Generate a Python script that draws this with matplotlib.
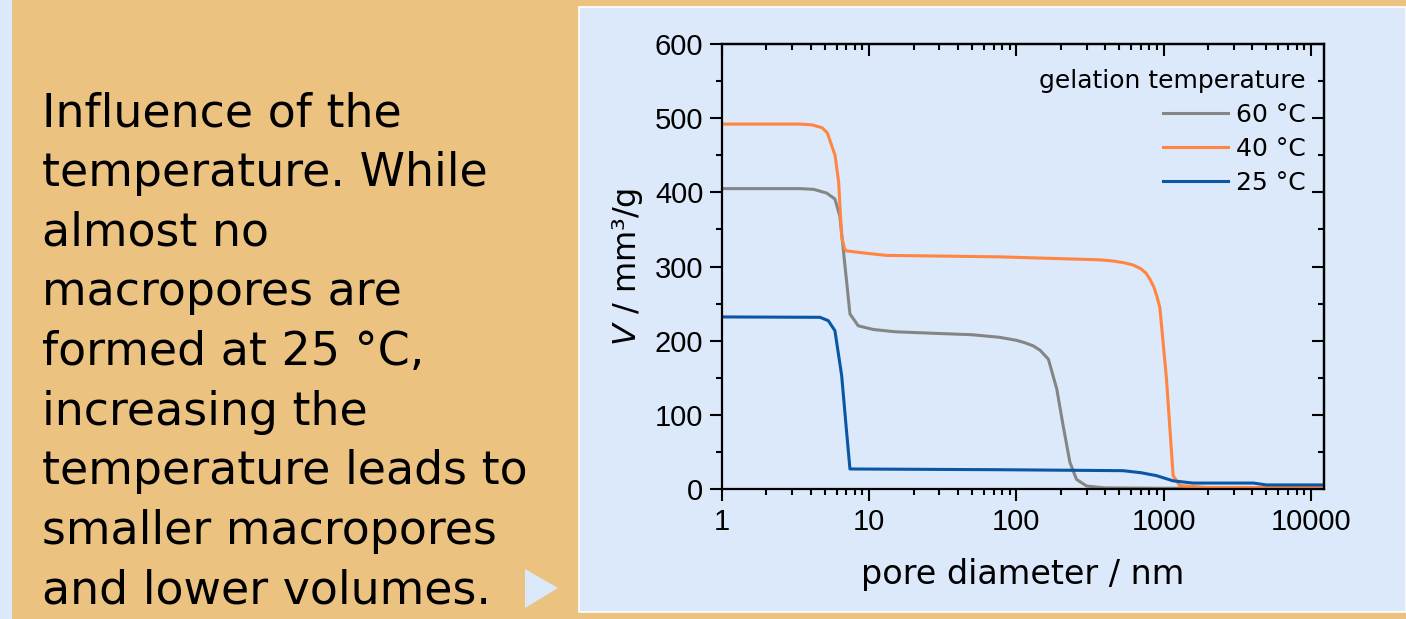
import numpy as np
import matplotlib
matplotlib.use("Agg")
import matplotlib.pyplot as plt
from matplotlib.patches import Rectangle, Polygon
from matplotlib.lines import Line2D
from matplotlib.ticker import LogLocator, MultipleLocator, FixedLocator, FixedFormatter, NullFormatter

# ---------------- data ----------------
# 60 °C
d60 = [1, 3.4, 4.2, 5.14, 5.85, 6.32, 6.66, 7.03, 7.4, 8.43, 10.7, 15, 27, 50, 77, 100, 115, 130, 145, 165,
       188, 208, 231, 256, 300, 400, 1000, 12300]
v60 = [405, 405, 404, 399, 391, 368, 324, 279, 236, 220, 215, 212, 210, 208, 204.5, 200.5, 197, 193, 187, 175,
       135, 85, 36, 13, 4, 1.5, 1, 1]
# 40 °C
d40 = [1, 3.4, 4.07, 4.8, 5.2, 5.86, 6.2, 6.5, 6.8, 7.03, 8.5, 13, 77, 369, 450, 540, 621, 700, 760, 807,
       860, 900, 943, 1047, 1161, 1290, 2000, 12300]
v40 = [492, 492, 491, 487, 480, 450, 414, 340, 324, 321, 319, 315, 313, 309, 307.5, 305, 302, 297, 291, 283,
       272, 260, 245, 148, 18, 4.5, 2, 2]
# 25 °C
d25 = [1, 4.63, 5.27, 5.85, 6.5, 7.03, 7.4, 77, 531, 700, 895, 1161, 1585, 4070, 5000, 12300]
v25 = [232, 231.5, 227, 213.5, 153, 76, 27, 26, 24.7, 22, 18, 11, 8, 8, 5.5, 5.5]

series_labels = ["60 °C", "40 °C", "25 °C"]
series_colors = ["#858585", "#FF8540", "#0A56A3"]

xticks = [1, 10, 100, 1000, 10000]
xticklabels = ["1", "10", "100", "1000", "10000"]
yticks = [0, 100, 200, 300, 400, 500, 600]

text_lines = ["Influence of the", "temperature. While", "almost no", "macropores are",
              "formed at 25 °C,", "increasing the", "temperature leads to",
              "smaller macropores", "and lower volumes."]

# ---------------- figure ----------------
W, H = 1406, 619
ORANGE_BG = "#ECC280"
BLUE_BG = "#DBE9FA"
fig = plt.figure(figsize=(W / 100, H / 100), dpi=100)
fig.patch.set_facecolor(ORANGE_BG)


def px(x, y):
    return (x / W, 1 - y / H)


fig.patches.append(Rectangle((0, 0), 12 / W, 1, transform=fig.transFigure,
                             facecolor=BLUE_BG, edgecolor="none", zorder=-10))
fig.patches.append(Rectangle(px(579, 612), (W - 579) / W, (612 - 7) / H, transform=fig.transFigure,
                             facecolor=BLUE_BG, edgecolor="white", linewidth=1.2, zorder=-10))
fig.patches.append(Polygon([px(525, 569), px(525, 608), px(558, 588)], closed=True,
                           transform=fig.transFigure, facecolor=BLUE_BG, edgecolor="none", zorder=-5))

for i, s in enumerate(text_lines):
    fig.text(42 / W, 1 - (126 + i * 59.75) / H, s, fontsize=33, family="DejaVu Sans",
             va="baseline", ha="left", color="black")

# ---------------- axes ----------------
ax = fig.add_axes([722 / W, 1 - 489 / H, (1324 - 722) / W, (489 - 44) / H])
ax.set_zorder(5)
ax.set_facecolor("none")
ax.set_xscale("log")

for d, v, lab, col in zip([d60, d40, d25], [v60, v40, v25], series_labels, series_colors):
    ax.plot(d, v, color=col, lw=2.2, label=lab, solid_joinstyle="round")

ax.set_xlim(1, 12300)
ax.set_ylim(0, 600)

ax.xaxis.set_major_locator(FixedLocator(xticks))
ax.xaxis.set_major_formatter(FixedFormatter(xticklabels))
ax.xaxis.set_minor_locator(LogLocator(base=10, subs=np.arange(2, 10), numticks=30))
ax.xaxis.set_minor_formatter(NullFormatter())
ax.yaxis.set_major_locator(FixedLocator(yticks))
ax.yaxis.set_minor_locator(MultipleLocator(50))

for sp in ax.spines.values():
    sp.set_linewidth(1.6)

ax.tick_params(which="both", direction="out", top=False, right=False, width=1.5,
               labelsize=21, pad=5, colors="black")
ax.tick_params(which="major", length=8.5)
ax.tick_params(which="minor", length=4.5)
for lbl in ax.get_xticklabels() + ax.get_yticklabels():
    lbl.set_family("Liberation Sans")

secx = ax.secondary_xaxis("top")
secx.xaxis.set_major_locator(FixedLocator(xticks))
secx.xaxis.set_minor_locator(LogLocator(base=10, subs=np.arange(2, 10), numticks=30))
secx.xaxis.set_minor_formatter(NullFormatter())
secx.tick_params(which="both", direction="in", labeltop=False, width=1.5)
secx.tick_params(which="major", length=8.5)
secx.tick_params(which="minor", length=4.5)
secx.spines["top"].set_linewidth(1.6)

secy = ax.secondary_yaxis("right")
secy.yaxis.set_major_locator(FixedLocator(yticks))
secy.yaxis.set_minor_locator(MultipleLocator(50))
secy.tick_params(which="both", direction="in", labelright=False, width=1.5)
secy.tick_params(which="major", length=8.5)
secy.tick_params(which="minor", length=4.5)
secy.spines["right"].set_linewidth(1.6)

ax.set_xlabel("pore diameter / nm", fontsize=24, family="DejaVu Sans")
ax.set_ylabel("$V$ / mm³/g", fontsize=23, family="DejaVu Sans")
ax.xaxis.set_label_coords(0.5, -0.155)
ax.yaxis.set_label_coords(-0.128, 0.5)

handles = [Line2D([], [], color=c, lw=2.2) for c in series_colors]
leg = ax.legend(handles, series_labels, title="gelation temperature", loc="upper right",
                bbox_to_anchor=(0.970, 0.944), frameon=False, alignment="right",
                prop={"family": "DejaVu Sans", "size": 18},
                title_fontproperties={"family": "DejaVu Sans", "size": 18},
                handlelength=2.6, handletextpad=0.32, labelspacing=0.4,
                borderpad=0, borderaxespad=0)

fig.savefig("out.png", dpi=100, facecolor=fig.get_facecolor())
